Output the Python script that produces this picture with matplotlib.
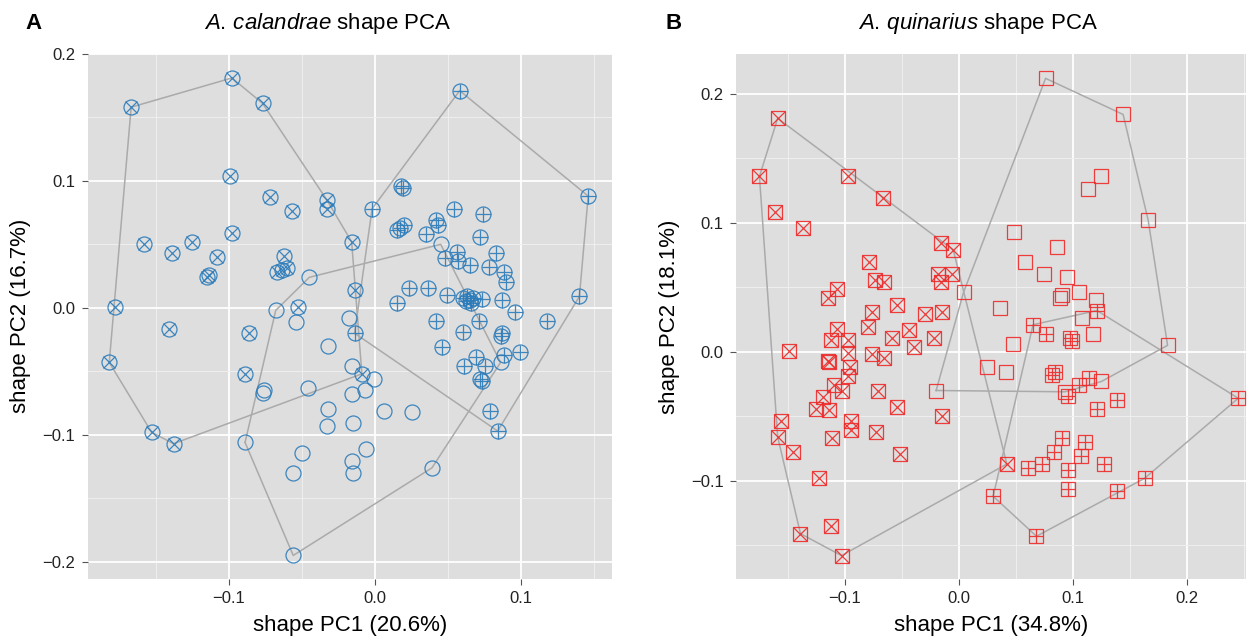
import numpy as np
import matplotlib
matplotlib.use('Agg')
import matplotlib.pyplot as plt
from matplotlib.ticker import MultipleLocator, FuncFormatter

plt.rcParams['font.family'] = ['Liberation Sans', 'DejaVu Sans']
plt.rcParams['mathtext.fontset'] = 'custom'
plt.rcParams['mathtext.rm'] = 'Liberation Sans'
plt.rcParams['mathtext.it'] = 'Liberation Sans:italic'

# --- A. calandrae (PC1, PC2) per group ---
a_cross_x = [-0.098, -0.167, -0.077, -0.099, -0.072, -0.057, -0.033, -0.033, -0.016, -0.098,
             -0.158, -0.139, -0.125, -0.108, -0.114, -0.115, -0.062, -0.067, -0.064, -0.060,
             -0.014, -0.053, -0.178, -0.141, -0.086, -0.182, -0.089, -0.153, -0.138, -0.009]
a_cross_y = [0.181, 0.158, 0.161, 0.104, 0.087, 0.076, 0.085, 0.078, 0.052, 0.059,
             0.050, 0.043, 0.052, 0.040, 0.026, 0.024, 0.041, 0.028, 0.030, 0.031,
             0.014, 0.001, 0.001, -0.017, -0.020, -0.043, -0.052, -0.098, -0.107, -0.052]

a_plus_x = [0.058, 0.146, 0.140, 0.084, -0.014, -0.002, 0.018, 0.019, 0.017, 0.020,
            0.015, 0.035, 0.042, 0.043, 0.054, 0.074, 0.072, 0.048, 0.056, 0.057,
            0.065, 0.083, 0.078, 0.088, 0.090, 0.049, 0.060, 0.063, 0.065, 0.067,
            0.062, 0.066, 0.073, 0.087, 0.036, 0.023, 0.015, 0.096, 0.042, 0.071,
            0.118, 0.060, 0.046, 0.086, 0.087, 0.069, 0.061, 0.075, 0.088, 0.099,
            0.072, 0.073, 0.079]
a_plus_y = [0.171, 0.088, 0.009, -0.097, -0.020, 0.078, 0.096, 0.094, 0.063, 0.065,
            0.061, 0.058, 0.069, 0.065, 0.078, 0.074, 0.056, 0.039, 0.044, 0.037,
            0.034, 0.043, 0.032, 0.028, 0.020, 0.010, 0.008, 0.009, 0.006, 0.008,
            0.005, 0.004, 0.007, 0.006, 0.016, 0.016, 0.004, -0.003, -0.010, -0.010,
            -0.010, -0.019, -0.031, -0.022, -0.020, -0.039, -0.046, -0.046, -0.037, -0.035,
            -0.056, -0.058, -0.081]

a_open_x = [0.045, -0.045, -0.068, -0.054, -0.018, -0.032, -0.016, -0.001, -0.076, -0.077,
            -0.046, -0.016, -0.007, -0.032, 0.006, 0.025, -0.033, -0.015, -0.050, -0.006,
            -0.016, -0.056, -0.015, 0.039, -0.056, -0.089, 0.086]
a_open_y = [0.050, 0.024, -0.002, -0.011, -0.008, -0.030, -0.046, -0.056, -0.065, -0.067,
            -0.063, -0.068, -0.065, -0.080, -0.081, -0.082, -0.093, -0.091, -0.114, -0.111,
            -0.121, -0.130, -0.130, -0.126, -0.195, -0.106, -0.043]

# --- A. quinarius (PC1, PC2) per group ---
b_cross_x = [-0.159, -0.175, -0.097, -0.067, -0.161, -0.137, -0.079, -0.074, -0.066, -0.107,
             -0.115, -0.054, -0.076, -0.016, -0.005, -0.018, -0.006, -0.016, -0.030, -0.015,
             -0.107, -0.080, -0.112, -0.097, -0.059, -0.044, -0.149, -0.097, -0.076, -0.066,
             -0.115, -0.114, -0.096, -0.097, -0.110, -0.103, -0.119, -0.071, -0.125, -0.114,
             -0.054, -0.156, -0.095, -0.095, -0.073, -0.159, -0.111, -0.146, -0.052, -0.123,
             -0.112, -0.139, -0.103, -0.022, -0.039, -0.015, 0.042]
b_cross_y = [0.181, 0.136, 0.136, 0.119, 0.108, 0.096, 0.070, 0.056, 0.054, 0.049,
             0.042, 0.036, 0.031, 0.084, 0.079, 0.060, 0.060, 0.054, 0.029, 0.031,
             0.018, 0.019, 0.009, 0.009, 0.011, 0.017, 0.001, -0.001, -0.002, -0.005,
             -0.007, -0.008, -0.012, -0.019, -0.026, -0.030, -0.035, -0.030, -0.044, -0.045,
             -0.043, -0.054, -0.054, -0.061, -0.062, -0.066, -0.067, -0.078, -0.079, -0.098,
             -0.135, -0.141, -0.158, 0.011, 0.004, -0.050, -0.087]

b_plus_x = [0.065, 0.076, 0.097, 0.099, 0.121, 0.082, 0.084, 0.096, 0.114, 0.105,
            0.139, 0.121, 0.090, 0.111, 0.083, 0.107, 0.073, 0.061, 0.096, 0.127,
            0.096, 0.030, 0.068, 0.163, 0.139, 0.245]
b_plus_y = [0.021, 0.014, 0.011, 0.008, 0.032, -0.018, -0.016, -0.034, -0.020, -0.026,
            -0.037, -0.044, -0.067, -0.070, -0.078, -0.081, -0.087, -0.090, -0.092, -0.087,
            -0.106, -0.112, -0.143, -0.098, -0.108, -0.036]

b_open_x = [0.076, 0.144, 0.166, 0.183, 0.125, 0.113, 0.004, 0.048, 0.086, 0.058,
            0.075, 0.095, 0.089, 0.090, 0.105, 0.120, 0.036, 0.108, 0.118, 0.047,
            0.025, 0.041, -0.020, 0.093, 0.125]
b_open_y = [0.212, 0.184, 0.102, 0.005, 0.136, 0.126, 0.046, 0.093, 0.081, 0.070,
            0.060, 0.058, 0.042, 0.044, 0.046, 0.040, 0.034, 0.026, 0.014, 0.006,
            -0.012, -0.016, -0.030, -0.031, -0.023]

panels = [
    {'tag': 'A', 'species': 'calandrae', 'color': '#2b7bba', 'shape': 'o',
     'groups': [(a_cross_x, a_cross_y, 'x'), (a_plus_x, a_plus_y, '+'), (a_open_x, a_open_y, None)],
     'xlabel': 'shape PC1 (20.6%)', 'ylabel': 'shape PC2 (16.7%)',
     'xlim': (-0.1966, 0.1623), 'ylim': (-0.2134, 0.2),
     'rect': [0.0703, 0.097, 0.4189, 0.819], 'tag_x': 0.020, 'title_x': 0.262},
    {'tag': 'B', 'species': 'quinarius', 'color': '#ee2a2a', 'shape': 's',
     'groups': [(b_cross_x, b_cross_y, 'x'), (b_plus_x, b_plus_y, '+'), (b_open_x, b_open_y, None)],
     'xlabel': 'shape PC1 (34.8%)', 'ylabel': 'shape PC2 (18.1%)',
     'xlim': (-0.1956, 0.2518), 'ylim': (-0.176, 0.231),
     'rect': [0.5883, 0.097, 0.4077, 0.819], 'tag_x': 0.532, 'title_x': 0.782},
]


def hull(xs, ys):
    # monotone chain convex hull, returns closed outline
    pts = sorted(set(zip(xs, ys)))

    def cross(o, a, b):
        return (a[0] - o[0]) * (b[1] - o[1]) - (a[1] - o[1]) * (b[0] - o[0])

    lower, upper = [], []
    for p in pts:
        while len(lower) >= 2 and cross(lower[-2], lower[-1], p) <= 0:
            lower.pop()
        lower.append(p)
    for p in reversed(pts):
        while len(upper) >= 2 and cross(upper[-2], upper[-1], p) <= 0:
            upper.pop()
        upper.append(p)
    h = lower[:-1] + upper[:-1]
    h.append(h[0])
    return np.array(h)


fmt = FuncFormatter(lambda v, pos: f'{v:.1f}'.replace('-', '\u2212'))

fig = plt.figure(figsize=(12.51, 6.41), dpi=100)

for p in panels:
    ax = fig.add_axes(p['rect'])
    ax.set_facecolor('#dedede')
    for s in ax.spines.values():
        s.set_visible(False)

    ax.xaxis.set_major_locator(MultipleLocator(0.1))
    ax.yaxis.set_major_locator(MultipleLocator(0.1))
    ax.xaxis.set_minor_locator(MultipleLocator(0.05))
    ax.yaxis.set_minor_locator(MultipleLocator(0.05))
    ax.xaxis.set_major_formatter(fmt)
    ax.yaxis.set_major_formatter(fmt)
    ax.grid(True, which='major', color='white', linewidth=1.3)
    ax.grid(True, which='minor', color='#efefef', linewidth=0.7)
    ax.set_axisbelow(True)
    ax.tick_params(which='major', length=4, color='#555555', labelsize=12,
                   labelcolor='#222222', pad=5)
    ax.tick_params(which='minor', length=0)

    # convex hulls
    for xs, ys, inner in p['groups']:
        h = hull(xs, ys)
        ax.plot(h[:, 0], h[:, 1], color='#aaaaaa', linewidth=1.1, zorder=2)

    # points
    ms = 10.8 if p['shape'] == 'o' else 9.8
    for xs, ys, inner in p['groups']:
        ax.plot(xs, ys, linestyle='none', marker=p['shape'], markersize=ms,
                markerfacecolor='none', markeredgecolor=p['color'], markeredgewidth=0.9,
                alpha=0.9, zorder=3)
        if inner is not None:
            ims = ms * (0.8 if (inner == 'x' and p['shape'] == 'o') else 1.0)
            ax.plot(xs, ys, linestyle='none', marker=inner, markersize=ims,
                    markeredgecolor=p['color'], markeredgewidth=0.9, alpha=0.9, zorder=3)

    ax.set_xlim(p['xlim'])
    ax.set_ylim(p['ylim'])
    ax.set_xlabel(p['xlabel'], fontsize=16, labelpad=6)
    ax.set_ylabel(p['ylabel'], fontsize=16, labelpad=8)
    title = r'$\it{A.\!\ ' + p['species'] + '}$ shape PCA'
    fig.text(p['title_x'], 0.963, title, fontsize=16, ha='center', va='center')
    fig.text(p['tag_x'], 0.963, p['tag'], fontsize=16, fontweight='bold',
             ha='left', va='center')

fig.savefig('out.png', dpi=100)
